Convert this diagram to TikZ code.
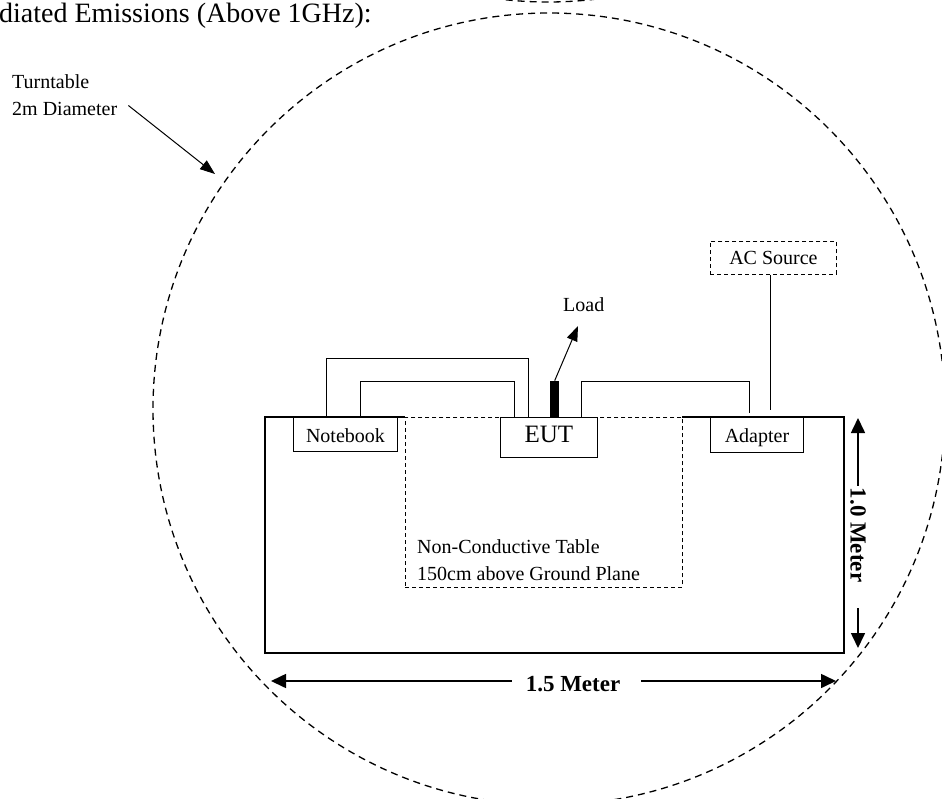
\documentclass[tikz,border=0pt]{standalone}
\usepackage{fontspec}
\setmainfont{Liberation Serif}
\usetikzlibrary{arrows.meta,calc}
\begin{document}
\begin{tikzpicture}[x=1pt,y=-1pt,
 wire/.style={line width=0.9pt},
 devbox/.style={draw,line width=0.9pt,fill=white,inner sep=0pt,anchor=north west,font=\fontsize{20}{24}\selectfont,text height=25pt,text depth=9pt,minimum height=0pt},
 dashbox/.style={draw,line width=0.9pt,dash pattern=on 4pt off 3pt},
 lbl/.style={inner sep=0pt,anchor=base west,font=\fontsize{20}{24}\selectfont},
 dimlbl/.style={inner sep=0pt,font=\bfseries\fontsize{23}{27}\selectfont},
 dimline/.style={line width=1.6pt,-{Triangle[length=15pt,width=14pt]}},
 ptr/.style={line width=1pt,-{Triangle[length=15pt,width=11pt]}},
 turn/.style={line width=1.3pt,dash pattern=on 7pt off 5pt}]
\useasboundingbox (0,0) rectangle (942,798);
\clip (0,0) rectangle (942,798);
% turntables
\draw[turn] (548,-394) circle[radius=396pt];
\draw[turn] (549,409) circle[radius=396pt];
% title and turntable label
\node[lbl,font=\fontsize{28}{32}\selectfont] (title) at (-1,22) {diated Emissions (Above 1GHz):};
\node[lbl] (tt1) at (12,88) {Turntable};
\node[lbl] (tt2) at (12,115) {2m Diameter};
\coordinate (turntip) at (215,174);
\draw[ptr] ([xshift=11pt,yshift=3pt]tt2.east) -- (turntip);
% table
\node[draw,line width=2.2pt,minimum width=579pt,minimum height=236pt,inner sep=0pt] (table) at (554.5,535) {};
\fill[white] (405,414) rectangle (682,419.5);
\node[dashbox,minimum width=277pt,minimum height=170pt,inner sep=0pt,anchor=north west] (ncbox) at (405,417) {};
\node[lbl] (nc1) at (417,553) {Non-Conductive Table};
\node[lbl] (nc2) at (417,580) {150cm above Ground Plane};
% devices
\node[devbox,minimum width=104pt] (nb) at (293,417) {Notebook};
\node[devbox,minimum width=97pt,font=\fontsize{25}{30}\selectfont,text depth=15pt] (eut) at (500,417) {EUT};
\node[devbox,minimum width=93pt,text depth=10pt] (ad) at (710,417) {Adapter};
\node[devbox,dashbox,minimum width=126pt,text height=23pt,text depth=10pt] (ac) at (710,241) {AC Source};
% cables
\draw[wire] ([xshift=33pt]nb.north west) -- ++(0,-59) -| ([xshift=28pt]eut.north west);
\draw[wire] ([xshift=67pt]nb.north west) -- ++(0,-36) -| ([xshift=14pt]eut.north west);
\draw[wire] ([xshift=81pt]eut.north west) -- ++(0,-36) -| ([xshift=39pt,yshift=4pt]ad.north west);
\draw[wire] ([xshift=60pt]ac.south west) -- ([xshift=60pt,yshift=7pt]ad.north west);
% load
\node[fill=black,inner sep=0pt,minimum width=9pt,minimum height=36pt,anchor=south west] (loadbar) at (550,417) {};
\node[lbl] (load) at (563,311) {Load};
\coordinate (loadtip) at (578,326);
\draw[ptr] (loadbar.north) -- (loadtip);
% dimensions
\node[dimlbl] (t15) at (573,684) {1.5 Meter};
\coordinate (d15l) at (271,681);
\coordinate (d15r) at (836,681);
\draw[dimline,shorten <=14pt] (d15l -| t15.west) -- (d15l);
\draw[dimline,shorten <=21pt] (d15r -| t15.east) -- (d15r);
\node[dimlbl,rotate=-90] (t10) at (858,535) {1.0 Meter};
\coordinate (d10t) at (858,418);
\coordinate (d10b) at (858,648);
\draw[dimline,shorten <=2pt] (d10t |- t10.west) -- (d10t);
\draw[dimline,shorten <=26pt] (d10b |- t10.east) -- (d10b);
\end{tikzpicture}
\end{document}
